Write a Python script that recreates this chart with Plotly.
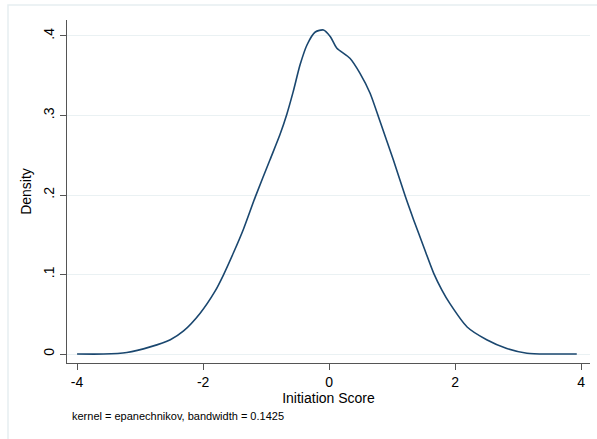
import plotly.graph_objects as go

score = [-4.0, -3.58, -3.21, -2.84, -2.52, -2.31, -2.05, -1.81, -1.68, -1.52, -1.36, -1.17,
         -0.94, -0.78, -0.67, -0.57, -0.46, -0.35, -0.22, -0.09, 0.02, 0.12, 0.33, 0.49,
         0.65, 0.81, 1.02, 1.21, 1.34, 1.50, 1.66, 1.79, 1.92, 2.19, 2.50, 2.82, 3.14, 3.51, 3.93]
density = [0.000, 0.000, 0.002, 0.009, 0.018, 0.029, 0.051, 0.079, 0.099, 0.127, 0.157, 0.198,
           0.244, 0.276, 0.302, 0.330, 0.364, 0.389, 0.405, 0.4075, 0.399, 0.385, 0.372, 0.353,
           0.328, 0.292, 0.244, 0.198, 0.169, 0.135, 0.1015, 0.0805, 0.063, 0.034, 0.018, 0.007,
           0.001, 0.000, 0.000]

x_ticks = [-4, -2, 0, 2, 4]
x_tick_labels = ["-4", "-2", "0", "2", "4"]
y_ticks = [0, 0.1, 0.2, 0.3, 0.4]
y_tick_labels = ["0", ".1", ".2", ".3", ".4"]

fig = go.Figure()
fig.add_trace(go.Scatter(x=score, y=density, mode="lines",
                         line=dict(color="#1a476f", width=1.6, shape="spline", smoothing=0.7),
                         showlegend=False, hoverinfo="skip"))

W, H = 597, 439
L, R, T, B = 67, 7, 20, 76
pw, ph = W - L - R, H - T - B

font = dict(family="Liberation Sans, Arial, sans-serif", color="#000000")
fig.update_layout(
    width=W, height=H,
    margin=dict(l=L, r=R, t=T, b=B),
    paper_bgcolor="white", plot_bgcolor="white",
    font=dict(size=14, **font),
    xaxis=dict(range=[-4.16, 4.14], tickvals=x_ticks, ticktext=x_tick_labels,
               showgrid=False, zeroline=False, showline=True, linecolor="#555555", linewidth=1,
               ticks="outside", ticklen=6, tickcolor="#555555", tickwidth=1,
               tickfont=dict(size=14),
               title=dict(text="Initiation Score", font=dict(size=14), standoff=4)),
    yaxis=dict(range=[-0.0113, 0.4201], tickvals=y_ticks, ticktext=y_tick_labels,
               showgrid=True, gridcolor="#eaf1f3", gridwidth=1, zeroline=False,
               showline=True, linecolor="#555555", linewidth=1,
               ticks="outside", ticklen=6, tickcolor="#555555", tickwidth=1,
               tickangle=-90, tickfont=dict(size=14),
               title=dict(text="Density", font=dict(size=14), standoff=6)),
)

fig.add_shape(type="rect", xref="paper", yref="paper",
              x0=(8 - L) / pw, x1=(W + 2 - L) / pw,
              y0=-(H + 5 - T - ph) / ph, y1=(T + ph - 5) / ph,
              line=dict(color="#e6eef1", width=1.5), fillcolor="rgba(0,0,0,0)", layer="below")

fig.add_annotation(text="kernel = epanechnikov, bandwidth = 0.1425", xref="paper", yref="paper",
                   x=(70 - L) / pw, y=-(416 - T - ph) / ph, xanchor="left", yanchor="middle",
                   showarrow=False, font=dict(size=11, **font))

fig.write_html("out.html")
